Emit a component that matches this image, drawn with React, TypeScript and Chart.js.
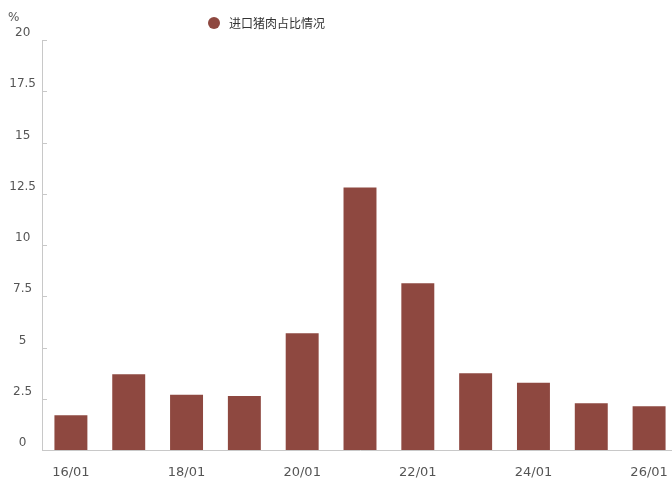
import React, { useEffect, useRef } from "react";
import { Chart, registerables } from "chart.js";

Chart.register(...registerables);

const categories = ["16/01", "17/01", "18/01", "19/01", "20/01", "21/01", "22/01", "23/01", "24/01", "25/01", "26/01"];
const values = [1.7, 3.7, 2.7, 2.63, 5.7, 12.8, 8.13, 3.75, 3.28, 2.28, 2.13];
const seriesName = "进口猪肉占比情况";
const yTicks = [0, 2.5, 5, 7.5, 10, 12.5, 15, 17.5, 20];
const unitLabel = "%";

const BAR_COLOR = "#8e4840";
const AXIS_COLOR = "#c8c8c8";
const TEXT_COLOR = "#555555";

export default function App() {
  const ref = useRef<HTMLCanvasElement>(null);

  useEffect(() => {
    if (!ref.current) return;
    const overlay = {
      id: "overlay",
      afterDraw(chart: any) {
        const ctx = chart.ctx;
        const y = chart.scales.y;
        const area = chart.chartArea;
        ctx.save();
        ctx.strokeStyle = AXIS_COLOR;
        ctx.lineWidth = 1;
        yTicks.forEach((v) => {
          const py = Math.round(y.getPixelForValue(v)) + 0.5;
          ctx.beginPath();
          ctx.moveTo(area.left, py);
          ctx.lineTo(area.left + 5, py);
          ctx.stroke();
        });
        ctx.fillStyle = TEXT_COLOR;
        ctx.font = "12px 'DejaVu Sans'";
        ctx.textAlign = "left";
        ctx.textBaseline = "middle";
        ctx.fillText(unitLabel, 8, 18);
        ctx.fillStyle = BAR_COLOR;
        ctx.beginPath();
        ctx.arc(214, 23, 6, 0, Math.PI * 2);
        ctx.fill();
        ctx.fillStyle = "#333333";
        ctx.font = "12px 'Noto Sans CJK SC'";
        ctx.fillText(seriesName, 229, 23);
        ctx.restore();
      },
    };
    const chart = new Chart(ref.current, {
      type: "bar",
      data: {
        labels: categories,
        datasets: [
          {
            label: seriesName,
            data: values,
            backgroundColor: BAR_COLOR,
            categoryPercentage: 1,
            barPercentage: 0.57,
          },
        ],
      },
      options: {
        responsive: false,
        animation: false,
        devicePixelRatio: 1,
        layout: { padding: { top: 40, right: 8, left: 0, bottom: 0 } },
        plugins: { legend: { display: false }, tooltip: { enabled: false } },
        scales: {
          x: {
            offset: true,
            grid: { display: false, drawTicks: false },
            border: { display: true, color: AXIS_COLOR, width: 1 },
            ticks: {
              autoSkip: false,
              maxRotation: 0,
              padding: 15,
              color: TEXT_COLOR,
              font: { family: "'DejaVu Sans'", size: 13 },
              callback: (_v: any, i: number) => (i % 2 === 0 ? categories[i] : ""),
            },
            afterFit: (s: any) => {
              s.height = 32;
            },
          },
          y: {
            min: 0,
            max: 20,
            grid: { display: false, drawTicks: false },
            border: { display: true, color: AXIS_COLOR, width: 1 },
            afterBuildTicks: (s: any) => {
              s.ticks = yTicks.map((v) => ({ value: v }));
            },
            ticks: {
              crossAlign: "center",
              padding: 6,
              labelOffset: -7,
              color: TEXT_COLOR,
              font: { family: "'DejaVu Sans'", size: 12 },
              callback: (v: any) => String(v),
            },
            afterFit: (s: any) => {
              s.width = 42;
            },
          },
        },
      },
      plugins: [overlay],
    });
    return () => chart.destroy();
  }, []);

  return (
    <div style={{ position: "fixed", left: 0, top: 0, width: 672, height: 482, overflow: "hidden", background: "#fff" }}>
      <canvas ref={ref} width={686} height={482} style={{ display: "block" }} />
    </div>
  );
}
